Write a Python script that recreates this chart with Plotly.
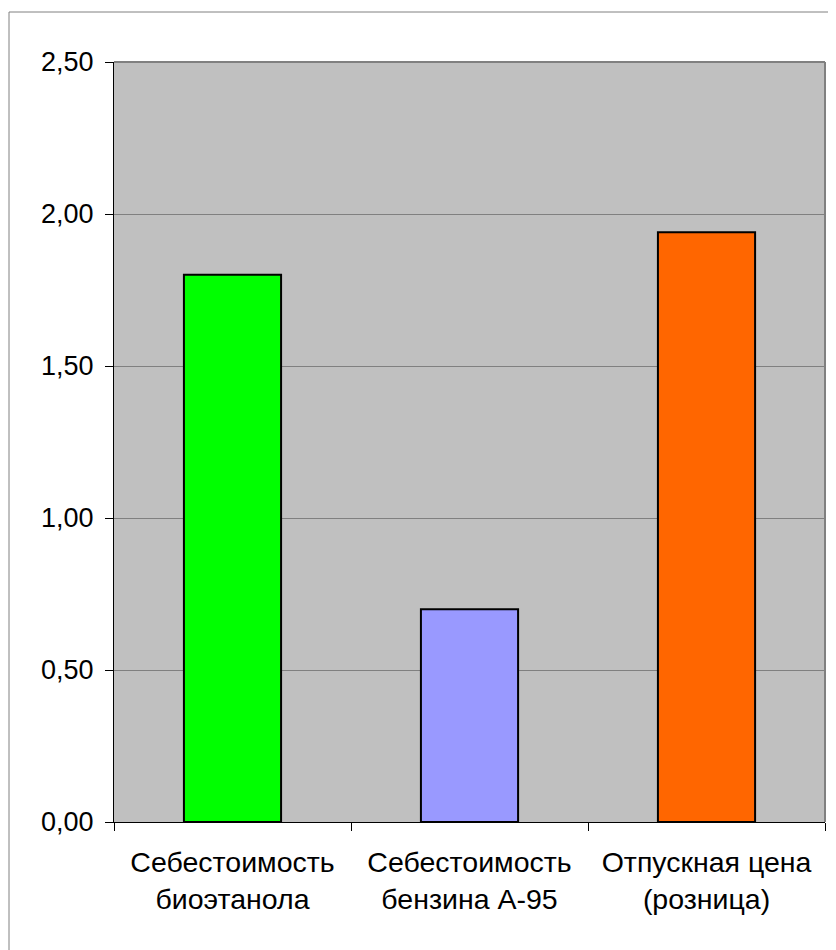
import plotly.graph_objects as go

categories = ["Себестоимость<br>биоэтанола", "Себестоимость<br>бензина А-95", "Отпускная цена<br>(розница)"]
values = [1.80, 0.70, 1.94]
colors = ["#00FF00", "#9999FF", "#FF6600"]
y_ticks = [0, 0.5, 1.0, 1.5, 2.0, 2.5]
y_tick_labels = ["0,00", "0,50", "1,00", "1,50", "2,00", "2,50"]

fig = go.Figure(go.Bar(
    x=categories, y=values,
    marker=dict(color=colors, line=dict(color="black", width=2)),
    width=0.41,
))

FONT = "Liberation Sans"
fig.update_layout(
    width=828, height=942,
    margin=dict(l=106, r=11, t=54, b=128),
    paper_bgcolor="white", plot_bgcolor="#C0C0C0",
    font=dict(family=FONT, size=27, color="black"),
    showlegend=False,
    shapes=[
        dict(type="rect", xref="paper", yref="paper", x0=-105/711, x1=1.2, y0=-0.2, y1=1 + 50/760,
             line=dict(color="#808080", width=1), layer="below"),
        dict(type="line", xref="paper", yref="paper", x0=1, x1=1, y0=0, y1=1,
             line=dict(color="#808080", width=2)),
        dict(type="line", xref="paper", yref="paper", x0=0, x1=1, y0=1, y1=1,
             line=dict(color="#808080", width=2)),
    ],
)
fig.update_yaxes(
    range=[0, 2.5], tickvals=y_ticks, ticktext=y_tick_labels,
    showgrid=True, gridcolor="#808080", gridwidth=1,
    showline=True, linecolor="black", linewidth=1,
    ticks="outside", ticklen=8, tickcolor="black", ticklabelstandoff=6,
    zeroline=False,
)
fig.update_xaxes(
    showline=True, linecolor="black", linewidth=1,
    ticks="outside", ticklen=8, tickcolor="black", tickson="boundaries",
    ticklabelstandoff=15, tickfont=dict(size=28.5),
)
fig.write_html("out.html")
